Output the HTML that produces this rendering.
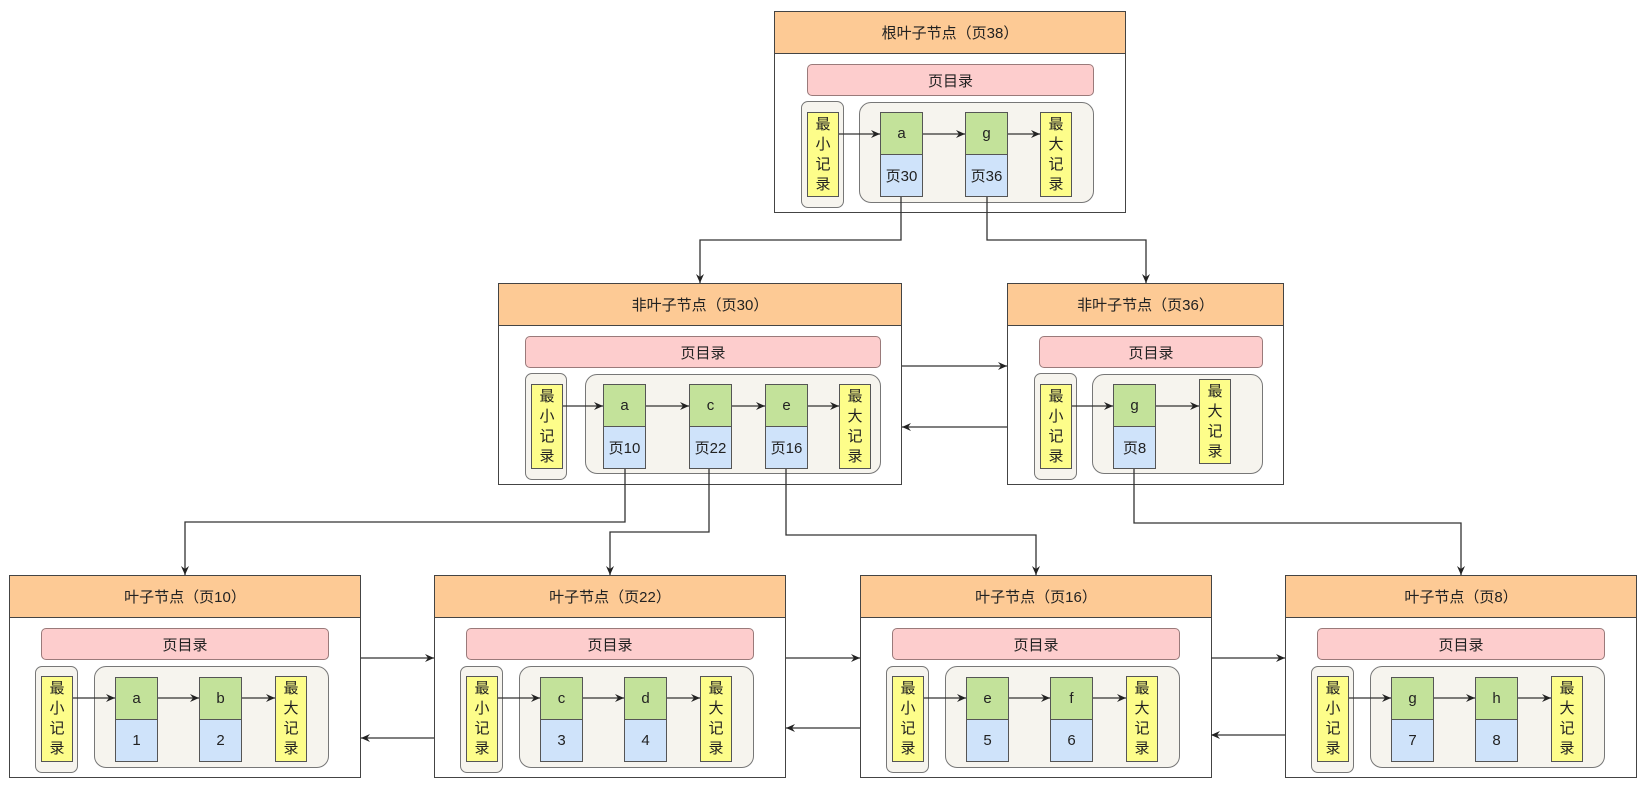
<!DOCTYPE html>
<html><head><meta charset="utf-8"><style>
body{margin:0;width:1648px;height:790px;background:#fff;position:relative;overflow:hidden;font-family:"Liberation Sans","Noto Sans CJK SC",sans-serif;color:#222}
div{position:absolute;box-sizing:border-box}
.n{border:1.5px solid #444;background:#fff}
.h{background:#fdca95;border:1.5px solid #444;display:flex;align-items:center;justify-content:center;font-size:15px}
.pd{background:#fdcdcd;border:1.5px solid #9a7a7a;border-radius:5px;display:flex;align-items:center;justify-content:center;font-size:15px}
.mo{border:1.5px solid #777;border-radius:7px;background:#f6f4ee}
.g{border:1.5px solid #777;border-radius:12px;background:#f6f4ee}
.y{background:#fdfd8a;border:1.5px solid #555;font-size:15px;line-height:20px;text-align:center;padding-top:2px}
.k{background:#c3e29a;border:1.5px solid #555;display:flex;align-items:center;justify-content:center;font-size:15px}
.b{background:#cfe3fa;border:1.5px solid #555;display:flex;align-items:center;justify-content:center;font-size:15px}
svg{position:absolute;left:0;top:0}
</style></head><body>

<!-- Root -->
<div class="n" style="left:774px;top:11px;width:352px;height:202px"></div>
<div class="h" style="left:774px;top:11px;width:352px;height:43px">根叶子节点（页38）</div>
<div class="pd" style="left:807px;top:64px;width:287px;height:32px">页目录</div>
<div class="mo" style="left:801px;top:101px;width:43px;height:107px"></div>
<div class="g" style="left:859px;top:102px;width:235px;height:101px"></div>
<div class="y" style="left:807px;top:112px;width:32px;height:85px">最<br>小<br>记<br>录</div>
<div class="k" style="left:880px;top:112px;width:43px;height:43px">a</div>
<div class="b" style="left:880px;top:154px;width:43px;height:43px">页30</div>
<div class="k" style="left:965px;top:112px;width:43px;height:43px">g</div>
<div class="b" style="left:965px;top:154px;width:43px;height:43px">页36</div>
<div class="y" style="left:1040px;top:112px;width:32px;height:85px">最<br>大<br>记<br>录</div>

<!-- Mid 30 -->
<div class="n" style="left:498px;top:283px;width:404px;height:202px"></div>
<div class="h" style="left:498px;top:283px;width:404px;height:43px">非叶子节点（页30）</div>
<div class="pd" style="left:525px;top:336px;width:356px;height:32px">页目录</div>
<div class="mo" style="left:525px;top:373px;width:42px;height:107px"></div>
<div class="g" style="left:585px;top:374px;width:296px;height:100px"></div>
<div class="y" style="left:531px;top:384px;width:32px;height:85px">最<br>小<br>记<br>录</div>
<div class="k" style="left:603px;top:384px;width:43px;height:43px">a</div>
<div class="b" style="left:603px;top:426px;width:43px;height:43px">页10</div>
<div class="k" style="left:689px;top:384px;width:43px;height:43px">c</div>
<div class="b" style="left:689px;top:426px;width:43px;height:43px">页22</div>
<div class="k" style="left:765px;top:384px;width:43px;height:43px">e</div>
<div class="b" style="left:765px;top:426px;width:43px;height:43px">页16</div>
<div class="y" style="left:839px;top:384px;width:32px;height:85px">最<br>大<br>记<br>录</div>

<!-- Mid 36 -->
<div class="n" style="left:1007px;top:283px;width:277px;height:202px"></div>
<div class="h" style="left:1007px;top:283px;width:277px;height:43px">非叶子节点（页36）</div>
<div class="pd" style="left:1039px;top:336px;width:224px;height:32px">页目录</div>
<div class="mo" style="left:1034px;top:373px;width:43px;height:107px"></div>
<div class="g" style="left:1092px;top:374px;width:171px;height:100px"></div>
<div class="y" style="left:1040px;top:384px;width:32px;height:85px">最<br>小<br>记<br>录</div>
<div class="k" style="left:1113px;top:384px;width:43px;height:43px">g</div>
<div class="b" style="left:1113px;top:426px;width:43px;height:43px">页8</div>
<div class="y" style="left:1199px;top:379px;width:32px;height:85px">最<br>大<br>记<br>录</div>

<!-- Leaves -->
<div class="n" style="left:9px;top:575px;width:352px;height:203px"></div>
<div class="h" style="left:9px;top:575px;width:352px;height:43px">叶子节点（页10）</div>
<div class="pd" style="left:41px;top:628px;width:288px;height:32px">页目录</div>
<div class="mo" style="left:35px;top:666px;width:43px;height:107px"></div>
<div class="g" style="left:94px;top:666px;width:235px;height:102px"></div>
<div class="y" style="left:41px;top:676px;width:32px;height:86px">最<br>小<br>记<br>录</div>
<div class="k" style="left:115px;top:677px;width:43px;height:43px">a</div>
<div class="b" style="left:115px;top:719px;width:43px;height:43px">1</div>
<div class="k" style="left:199px;top:677px;width:43px;height:43px">b</div>
<div class="b" style="left:199px;top:719px;width:43px;height:43px">2</div>
<div class="y" style="left:275px;top:676px;width:32px;height:86px">最<br>大<br>记<br>录</div>

<div class="n" style="left:434px;top:575px;width:352px;height:203px"></div>
<div class="h" style="left:434px;top:575px;width:352px;height:43px">叶子节点（页22）</div>
<div class="pd" style="left:466px;top:628px;width:288px;height:32px">页目录</div>
<div class="mo" style="left:460px;top:666px;width:43px;height:107px"></div>
<div class="g" style="left:519px;top:666px;width:235px;height:102px"></div>
<div class="y" style="left:466px;top:676px;width:32px;height:86px">最<br>小<br>记<br>录</div>
<div class="k" style="left:540px;top:677px;width:43px;height:43px">c</div>
<div class="b" style="left:540px;top:719px;width:43px;height:43px">3</div>
<div class="k" style="left:624px;top:677px;width:43px;height:43px">d</div>
<div class="b" style="left:624px;top:719px;width:43px;height:43px">4</div>
<div class="y" style="left:700px;top:676px;width:32px;height:86px">最<br>大<br>记<br>录</div>

<div class="n" style="left:860px;top:575px;width:352px;height:203px"></div>
<div class="h" style="left:860px;top:575px;width:352px;height:43px">叶子节点（页16）</div>
<div class="pd" style="left:892px;top:628px;width:288px;height:32px">页目录</div>
<div class="mo" style="left:886px;top:666px;width:43px;height:107px"></div>
<div class="g" style="left:945px;top:666px;width:235px;height:102px"></div>
<div class="y" style="left:892px;top:676px;width:32px;height:86px">最<br>小<br>记<br>录</div>
<div class="k" style="left:966px;top:677px;width:43px;height:43px">e</div>
<div class="b" style="left:966px;top:719px;width:43px;height:43px">5</div>
<div class="k" style="left:1050px;top:677px;width:43px;height:43px">f</div>
<div class="b" style="left:1050px;top:719px;width:43px;height:43px">6</div>
<div class="y" style="left:1126px;top:676px;width:32px;height:86px">最<br>大<br>记<br>录</div>

<div class="n" style="left:1285px;top:575px;width:352px;height:203px"></div>
<div class="h" style="left:1285px;top:575px;width:352px;height:43px">叶子节点（页8）</div>
<div class="pd" style="left:1317px;top:628px;width:288px;height:32px">页目录</div>
<div class="mo" style="left:1311px;top:666px;width:43px;height:107px"></div>
<div class="g" style="left:1370px;top:666px;width:235px;height:102px"></div>
<div class="y" style="left:1317px;top:676px;width:32px;height:86px">最<br>小<br>记<br>录</div>
<div class="k" style="left:1391px;top:677px;width:43px;height:43px">g</div>
<div class="b" style="left:1391px;top:719px;width:43px;height:43px">7</div>
<div class="k" style="left:1475px;top:677px;width:43px;height:43px">h</div>
<div class="b" style="left:1475px;top:719px;width:43px;height:43px">8</div>
<div class="y" style="left:1551px;top:676px;width:32px;height:86px">最<br>大<br>记<br>录</div>

<svg width="1648" height="790">
<defs><marker id="a" markerWidth="10" markerHeight="10" refX="9" refY="5" orient="auto" markerUnits="userSpaceOnUse"><path d="M0,1 L9,5 L0,9 L3,5 Z" fill="#222"/></marker></defs>
<g stroke="#333" stroke-width="1.3" fill="none" marker-end="url(#a)">
<!-- root internal -->
<path d="M839,134 H880"/><path d="M923,134 H965"/><path d="M1008,134 H1040"/>
<!-- mid30 internal -->
<path d="M563,406 H603"/><path d="M646,406 H689"/><path d="M732,406 H765"/><path d="M808,406 H839"/>
<!-- mid36 internal -->
<path d="M1072,406 H1113"/><path d="M1156,406 H1199"/>
<!-- leaf internals -->
<path d="M73,698 H115"/><path d="M158,698 H199"/><path d="M242,698 H275"/>
<path d="M498,698 H540"/><path d="M583,698 H624"/><path d="M667,698 H700"/>
<path d="M924,698 H966"/><path d="M1009,698 H1050"/><path d="M1093,698 H1126"/>
<path d="M1349,698 H1391"/><path d="M1434,698 H1475"/><path d="M1518,698 H1551"/>
<!-- tree connectors -->
<path d="M901,197 V240 H700 V283"/>
<path d="M987,197 V240 H1146 V283"/>
<path d="M625,469 V522 H185 V575"/>
<path d="M709,469 V532 H610 V575"/>
<path d="M786,469 V535 H1036 V575"/>
<path d="M1134,469 V523 H1461 V575"/>
<!-- sibling links -->
<path d="M902,366 H1007"/><path d="M1007,427 H902"/>
<path d="M361,658 H434"/><path d="M434,738 H361"/>
<path d="M786,658 H860"/><path d="M860,728 H786"/>
<path d="M1211,658 H1285"/><path d="M1285,735 H1211"/>
</g>
</svg>
</body></html>
